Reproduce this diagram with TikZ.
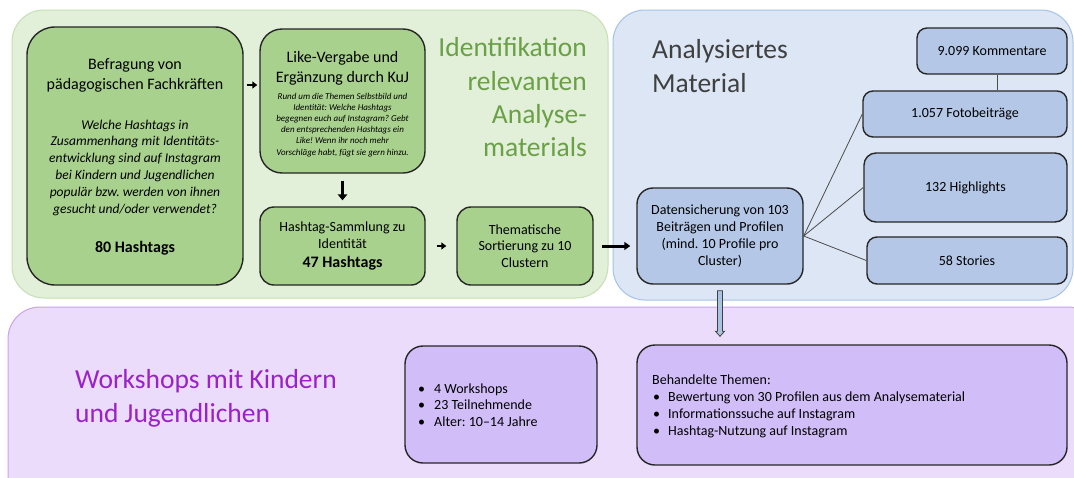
\documentclass[tikz,border=0pt]{standalone}
\usepackage{fontspec}
\setmainfont{Carlito}
\frenchspacing
\usetikzlibrary{arrows.meta,calc}
\definecolor{greenbg}{HTML}{E2EFD9}
\definecolor{greenbgline}{HTML}{C5E0B3}
\definecolor{greenbox}{HTML}{A9D18E}
\definecolor{bluebg}{HTML}{DCE6F4}
\definecolor{bluebgline}{HTML}{A4C3E8}
\definecolor{bluebox}{HTML}{B4C7E7}
\definecolor{purplebg}{HTML}{EADCFA}
\definecolor{purplebgline}{HTML}{C9A2F0}
\definecolor{purplebox}{HTML}{D1BEF8}
\definecolor{boxline}{HTML}{262626}
\definecolor{titlegreen}{HTML}{6AA046}
\definecolor{titlegray}{HTML}{404040}
\definecolor{titlepurple}{HTML}{9B22C8}
\definecolor{blockarr}{HTML}{A9C3E0}
\newcommand{\fsz}[2]{\fontsize{#1}{#2}\selectfont}
\begin{document}
\begin{tikzpicture}[x=1pt,y=-1pt,
  container/.style={line width=1pt, rounded corners=32pt},
  box/.style={draw=boxline, line width=1.4pt, inner sep=0pt, align=center, font=\fsz{14}{16.8}},
  gbox/.style={box, fill=greenbox},
  bbox/.style={box, fill=bluebox},
  pbox/.style={box, fill=purplebox},
  tx/.style={inner sep=0pt, align=center},
  arrA/.style={line width=2.4pt, -{Triangle[length=5pt,width=7pt]}},
  arrB/.style={line width=3.4pt, -{Triangle[length=6pt,width=9.5pt]}},
  arrC/.style={line width=3pt, -{Triangle[length=6pt,width=8pt]}},
  link/.style={draw=black!70, line width=0.8pt},
]
\useasboundingbox (0,0) rectangle (1074,477);
\clip (0,0) rectangle (1074,477);
\fill[white] (0,0) rectangle (1074,477);

% containers
\draw[container, fill=greenbg, draw=greenbgline] (12,10) rectangle (608,298);
\draw[container, fill=bluebg, draw=bluebgline] (613,10) rectangle (1073,300);
\draw[container, fill=purplebg, draw=purplebgline] (8,307) rectangle (1100,510);

% titles
\node[tx, anchor=east, align=right, font=\fsz{27.5}{33.3}, text=titlegreen] (idT) at (587,97.4) {Identifikation\\relevanten\\Analyse-\\materials};
\node[tx, anchor=west, align=left, font=\fsz{27.5}{34}, text=titlegray] (anT) at (652,66.5) {Analysiertes\\Material};
\node[tx, anchor=west, align=left, font=\fsz{27.5}{34}, text=titlepurple] (wsT) at (75,398) {Workshops mit Kindern\\und Jugendlichen};

% green boxes
\node[gbox, rounded corners=28pt, minimum width=216pt, minimum height=258pt] (bef) at (135,156) {};
\node[tx, font=\fsz{16}{19.5}] (befT) at (135,75.5) {Befragung von\\pädagogischen Fachkräften};
\node[tx, font=\fsz{13.5}{16.8}\itshape] (befQ) at (135,167.6) {Welche Hashtags in\\Zusammenhang mit Identitäts-\\entwicklung sind auf Instagram\\bei Kindern und Jugendlichen\\populär bzw. werden von ihnen\\gesucht und/oder verwendet?};
\node[tx, anchor=base, font=\fsz{16}{19}\bfseries] (befN) at (135,252) {80 Hashtags};

\node[gbox, rounded corners=22pt, minimum width=165pt, minimum height=144pt] (like) at (342.5,101) {};
\node[tx, font=\fsz{16}{20}] (likeT) at (342.5,68) {Like-Vergabe und\\Ergänzung durch KuJ};
\node[tx, font=\fsz{9}{11.2}\itshape] (likeQ) at (342.5,124.7) {Rund um die Themen Selbstbild und\\Identität: Welche Hashtags\\begegnen euch auf Instagram? Gebt\\den entsprechenden Hashtags ein\\Like! Wenn ihr noch mehr\\Vorschläge habt, fügt sie gern hinzu.};

\node[gbox, rounded corners=14pt, minimum width=165pt, minimum height=78pt] (hsam) at (342.5,246) {};
\node[tx, font=\fsz{14}{16.5}] (hsamT) at (342.5,235) {Hashtag-Sammlung zu\\Identität};
\node[tx, anchor=base, font=\fsz{16}{19}\bfseries] (hsamN) at (342.5,267) {47 Hashtags};

\node[gbox, rounded corners=14pt, minimum width=136pt, minimum height=78pt] (them) at (525,246) {Thematische\\Sortierung zu 10\\Clustern};

% blue boxes
\node[bbox, rounded corners=16pt, minimum width=166pt, minimum height=96pt] (dat) at (720,236) {Datensicherung von 103\\Beiträgen und Profilen\\(mind. 10 Profile pro\\Cluster)};
\node[bbox, rounded corners=10pt, minimum width=150pt, minimum height=46pt] (komm) at (992,51) {9.099 Kommentare};
\node[bbox, rounded corners=10pt, minimum width=204pt, minimum height=46pt] (foto) at (965,114) {1.057 Fotobeiträge};
\node[bbox, rounded corners=12pt, minimum width=203pt, minimum height=69pt] (high) at (965.5,187.5) {132 Highlights};
\node[bbox, rounded corners=10pt, minimum width=200pt, minimum height=47pt] (stor) at (967,260.5) {58 Stories};

% purple boxes
\node[pbox, rounded corners=18pt, minimum width=192pt, minimum height=117pt] (ws) at (501,404.5) {};
\node[tx, anchor=west, align=left, font=\fsz{14}{16.7}] (wsL) at (418,405) {\makebox[16pt][l]{\textbullet}4 Workshops\\\makebox[16pt][l]{\textbullet}23 Teilnehmende\\\makebox[16pt][l]{\textbullet}Alter: 10–14 Jahre};
\node[pbox, rounded corners=18pt, minimum width=430pt, minimum height=120pt] (beh) at (852,405) {};
\node[tx, anchor=west, align=left, font=\fsz{14}{17}] (behL) at (652,406) {Behandelte Themen:\\\hspace*{1pt}\makebox[15pt][l]{\textbullet}Bewertung von 30 Profilen aus dem Analysematerial\\\hspace*{1pt}\makebox[15pt][l]{\textbullet}Informationssuche auf Instagram\\\hspace*{1pt}\makebox[15pt][l]{\textbullet}Hashtag-Nutzung auf Instagram};

% connectors
\draw[arrA] ([xshift=3pt]bef.east |- 0,85) -- ([xshift=-2pt]like.west |- 0,85);
\draw[arrB, shorten <=7pt, shorten >=6pt] (like.south) -- (hsam.north);
\draw[arrA, shorten <=11pt, shorten >=10pt] (hsam.east) -- (them.west);
\draw[arrC, shorten <=8pt, shorten >=6pt] (them.east) -- (dat.west |- them.east);
\draw[link] (dat.east) -- (foto.west);
\draw[link] (dat.east) -- (high.west);
\draw[link] (dat.east) -- (stor.west);
\draw[link] ([xshift=5pt]komm.south) -- ([xshift=5pt]komm.south |- foto.north);

% block arrow
\coordinate (ba1) at ($(dat.south)+(0,6)$);
\coordinate (ba2) at ($(dat.south |- beh.north)+(0,-8)$);
\filldraw[fill=blockarr, draw=black!75, line width=0.8pt] ($(ba1)+(-2.5,0)$) -- ($(ba2)+(-2.5,-5)$) -- ($(ba2)+(-4.5,-5)$) -- (ba2) -- ($(ba2)+(4.5,-5)$) -- ($(ba2)+(2.5,-5)$) -- ($(ba1)+(2.5,0)$) -- cycle;
\end{tikzpicture}
\end{document}
